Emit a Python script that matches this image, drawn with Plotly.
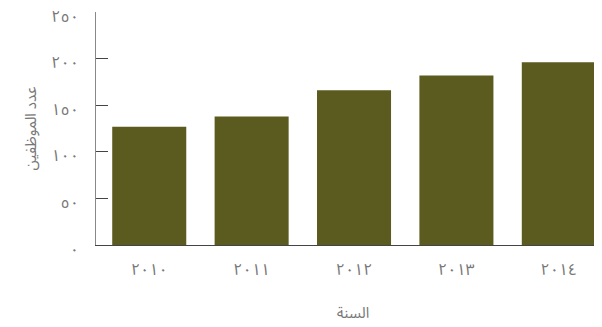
import plotly.graph_objects as go

# Data
years = ["٢٠١٠", "٢٠١١", "٢٠١٢", "٢٠١٣", "٢٠١٤"]
employees = [127, 138, 166, 182, 196]
y_tick_values = [0, 50, 100, 150, 200, 250]
y_tick_labels = ["٠", "٥٠", "١٠٠", "١٥٠", "٢٠٠", "٢٥٠"]
x_title = "السنة"
y_title = "عدد الموظفين"

FONT = "Noto Sans Arabic, Noto Sans Arabic UI, Noto Sans"
bar_color = "#5B5A1F"

fig = go.Figure(
    go.Bar(
        x=list(range(len(years))),
        y=employees,
        marker=dict(color=bar_color, line=dict(width=0)),
        hoverinfo="skip",
    )
)

fig.update_layout(
    width=602,
    height=327,
    margin=dict(l=88, r=0, t=4, b=90),
    plot_bgcolor="white",
    paper_bgcolor="white",
    bargap=0.277,
    showlegend=False,
    font=dict(family=FONT, size=15, color="#777"),
)

fig.update_xaxes(
    range=[-0.52, 4.50],
    tickmode="array",
    tickvals=list(range(len(years))),
    ticktext=years,
    showline=True,
    linecolor="#444",
    linewidth=1,
    ticks="",
    showgrid=False,
    zeroline=False,
    automargin=False,
    ticklabelstandoff=10,
    tickfont=dict(family=FONT, size=16, color="#777"),
    title=dict(text=x_title, standoff=21, font=dict(family=FONT, size=15, color="#777")),
)

fig.update_yaxes(
    range=[0, 250.01],
    tickmode="array",
    tickvals=y_tick_values,
    ticktext=y_tick_labels,
    showline=True,
    linecolor="#888",
    linewidth=1,
    ticks="inside",
    ticklen=12,
    tickcolor="#444",
    showgrid=False,
    zeroline=False,
    automargin=False,
    ticklabelstandoff=13,
    ticklabelshift=4,
    ticklabeloverflow="allow",
    tickfont=dict(family=FONT, size=16, color="#777"),
    title=dict(text=y_title, standoff=11, font=dict(family=FONT, size=15, color="#777")),
)

fig.write_html("out.html")
